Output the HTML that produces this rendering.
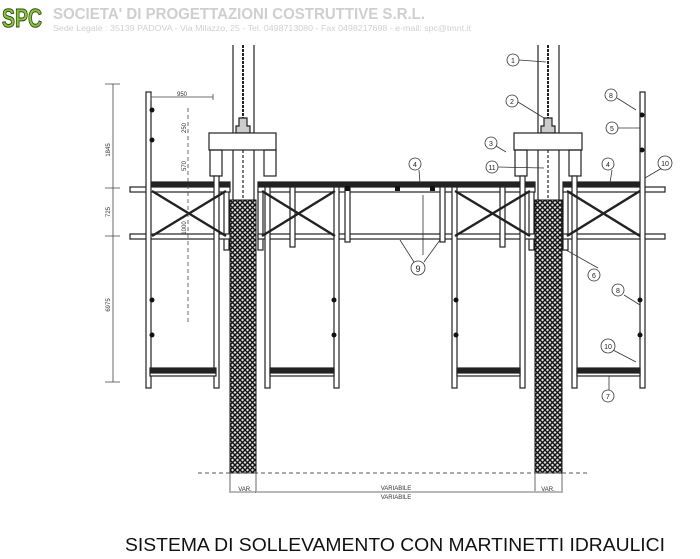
<!DOCTYPE html>
<html><head><meta charset="utf-8"><style>
html,body{margin:0;padding:0;background:#fff;}
svg{display:block;}
</style></head><body>
<svg width="700" height="559" viewBox="0 0 700 559" xmlns="http://www.w3.org/2000/svg" font-family="Liberation Sans, sans-serif">
<defs>
<pattern id="hx" width="5" height="5" patternUnits="userSpaceOnUse">
<rect width="5" height="5" fill="#ddd"/>
<path d="M0 0L5 5M5 0L0 5" stroke="#111" stroke-width="1.4"/>
</pattern>
</defs>

<!-- header -->
<text x="22" y="27" font-size="26" font-weight="bold" fill="#8cc63f" text-anchor="middle" stroke="#2f4a10" stroke-width="1" textLength="40" lengthAdjust="spacingAndGlyphs">SPC</text>
<text x="53" y="19" font-size="15.5" font-weight="bold" fill="#cfcfcf" textLength="372" lengthAdjust="spacingAndGlyphs">SOCIETA' DI PROGETTAZIONI COSTRUTTIVE S.R.L.</text>
<text x="53" y="31" font-size="8.5" fill="#d0d0d0" textLength="418" lengthAdjust="spacingAndGlyphs">Sede Legale : 35139 PADOVA - Via Milazzo, 25 - Tel. 0498713080 - Fax 0498217698 - e-mail: spc@tmnt.it</text>

<g stroke="#222" fill="none" stroke-width="1.2">
<line x1="233" y1="45" x2="233" y2="200"/><line x1="254" y1="45" x2="254" y2="200"/>
<line x1="243" y1="45" x2="243" y2="118" stroke-width="2" stroke-dasharray="3 1"/>
<line x1="538" y1="45" x2="538" y2="200"/><line x1="559" y1="45" x2="559" y2="200"/>
<line x1="548" y1="45" x2="548" y2="118" stroke-width="2" stroke-dasharray="3 1"/>
<path d="M239 118h8v8h3v7h-14v-7h3z" fill="#ccc"/>
<path d="M544 118h8v8h3v7h-14v-7h3z" fill="#ccc"/>
<rect x="209" y="133" width="67" height="17" fill="#fff"/>
<rect x="210" y="150" width="12" height="26"/><rect x="264" y="150" width="12" height="26"/>
<rect x="514" y="133" width="68" height="17" fill="#fff"/>
<rect x="515" y="150" width="12" height="26"/><rect x="569" y="150" width="12" height="26"/>
<line x1="243" y1="150" x2="243" y2="200" stroke-dasharray="3 2"/>
<line x1="548" y1="150" x2="548" y2="200" stroke-dasharray="3 2"/>
<rect x="224" y="190" width="5" height="60"/><rect x="258" y="190" width="5" height="60"/>
<rect x="529" y="190" width="5" height="60"/><rect x="563" y="190" width="5" height="60"/>
</g>

<rect x="230" y="200" width="26" height="273" fill="url(#hx)" stroke="#111"/>
<rect x="535" y="200" width="27" height="273" fill="url(#hx)" stroke="#111"/>

<g stroke="#222" fill="#fff" stroke-width="1.2">
<rect x="150" y="182" width="80" height="4" fill="#222"/>
<rect x="258" y="182" width="277" height="4" fill="#222"/>
<rect x="563" y="182" width="80" height="4" fill="#222"/>
<rect x="130" y="187" width="100" height="5"/>
<rect x="258" y="187" width="277" height="5"/>
<rect x="563" y="187" width="102" height="5"/>
<rect x="130" y="234" width="100" height="5"/>
<rect x="258" y="234" width="277" height="5"/>
<rect x="563" y="234" width="102" height="5"/>
<rect x="146" y="92" width="5" height="296"/>
<rect x="214" y="176" width="5" height="212"/>
<rect x="265" y="187" width="5" height="201"/>
<rect x="334" y="187" width="5" height="201"/>
<rect x="452" y="187" width="5" height="201"/>
<rect x="520" y="176" width="5" height="212"/>
<rect x="572" y="176" width="5" height="212"/>
<rect x="640" y="92" width="5" height="296"/>
<rect x="290" y="187" width="5" height="60"/>
<rect x="345" y="187" width="5" height="55"/>
<rect x="440" y="187" width="5" height="55"/>
<rect x="500" y="187" width="5" height="60"/>
<rect x="150" y="368" width="66" height="4" fill="#222"/><rect x="150" y="373" width="66" height="3"/>
<rect x="270" y="368" width="64" height="4" fill="#222"/><rect x="270" y="373" width="64" height="3"/>
<rect x="457" y="368" width="63" height="4" fill="#222"/><rect x="457" y="373" width="63" height="3"/>
<rect x="577" y="368" width="63" height="4" fill="#222"/><rect x="577" y="373" width="63" height="3"/>
</g>

<g stroke="#222" stroke-width="2.4">
<path d="M152 191L226 236M152 236L226 191"/>
<path d="M262 191L335 236M262 236L335 191"/>
<path d="M455 191L530 236M455 236L530 191"/>
<path d="M567 191L640 236M567 236L640 191"/>
</g>
<g fill="#111">
<circle cx="152" cy="110" r="2.5"/><circle cx="152" cy="140" r="2.5"/>
<circle cx="642" cy="115" r="2.5"/><circle cx="642" cy="150" r="2.5"/>
<circle cx="152" cy="300" r="2.5"/><circle cx="152" cy="335" r="2.5"/>
<circle cx="334" cy="300" r="2.5"/><circle cx="334" cy="335" r="2.5"/>
<circle cx="456" cy="300" r="2.5"/><circle cx="456" cy="335" r="2.5"/>
<circle cx="640" cy="300" r="2.5"/><circle cx="640" cy="335" r="2.5"/>
<rect x="395" y="186" width="5" height="5"/><rect x="345" y="186" width="5" height="5"/><rect x="430" y="186" width="5" height="5"/>
</g>

<line x1="198" y1="473" x2="590" y2="473" stroke="#555" stroke-dasharray="4 3"/>
<g stroke="#444" fill="none" stroke-width="0.8">
<path d="M230 473v20M256 473v20M535 473v20M562 473v20"/>
<path d="M231 492h25M257 492h277M536 492h25"/>
<path d="M113 84v298M105 84h15M105 188h15M105 236h15M105 382h15"/>
<path d="M151 97h62M151 94v6M213 94v6"/>
<path d="M188 108v214" stroke-dasharray="4 3"/>
</g>
<g font-size="6" fill="#333" text-anchor="middle">
<text x="245" y="491">VAR.</text><text x="548" y="491">VAR.</text>
<text x="396" y="490">VARIABILE</text><text x="396" y="499">VARIABILE</text>
<text x="182" y="96">950</text>
<text transform="translate(110 150) rotate(-90)">1845</text>
<text transform="translate(110 212) rotate(-90)">725</text>
<text transform="translate(110 305) rotate(-90)">6975</text>
<text transform="translate(186 128) rotate(-90)">250</text>
<text transform="translate(186 166) rotate(-90)">570</text>
<text transform="translate(186 228) rotate(-90)">1000</text>
</g>

<g stroke="#333" stroke-width="0.8" fill="none">
<path d="M519 60L546 62M518 102L544 118M496 146L506 152M498 167L544 168M419 170L420 183M612 170L610 183M617 98L636 110M618 128L640 128M662 168L645 178M414 262L400 240M424 262L440 240M423 255L423 195M598 268L566 250M624 295L640 305M613 350L636 362M609 390L609 376"/>
</g>
<g stroke="#333" stroke-width="0.8" fill="#fff">
<circle cx="513" cy="60" r="6"/><circle cx="512" cy="101" r="6"/>
<circle cx="491" cy="143" r="6"/><circle cx="492" cy="167" r="6"/>
<circle cx="415" cy="164" r="6"/><circle cx="608" cy="164" r="6"/>
<circle cx="611" cy="95" r="6"/><circle cx="612" cy="128" r="6"/>
<circle cx="665" cy="163" r="7"/><circle cx="418" cy="268" r="7"/>
<circle cx="594" cy="275" r="6"/><circle cx="618" cy="290" r="6"/>
<circle cx="608" cy="346" r="7"/><circle cx="608" cy="396" r="6"/>
</g>
<g font-size="7" fill="#222" text-anchor="middle">
<text x="513" y="63">1</text><text x="512" y="104">2</text><text x="491" y="146">3</text><text x="492" y="170">11</text>
<text x="415" y="167">4</text><text x="608" y="167">4</text><text x="611" y="98">8</text><text x="612" y="131">5</text>
<text x="665" y="166">10</text><text x="418" y="272" font-size="9">9</text><text x="594" y="278">6</text>
<text x="618" y="293">8</text><text x="608" y="349">10</text><text x="608" y="399">7</text>
</g>

<text x="125" y="551" font-size="18.5" fill="#111" textLength="540" lengthAdjust="spacingAndGlyphs">SISTEMA DI SOLLEVAMENTO CON MARTINETTI IDRAULICI</text>
</svg>
</body></html>
